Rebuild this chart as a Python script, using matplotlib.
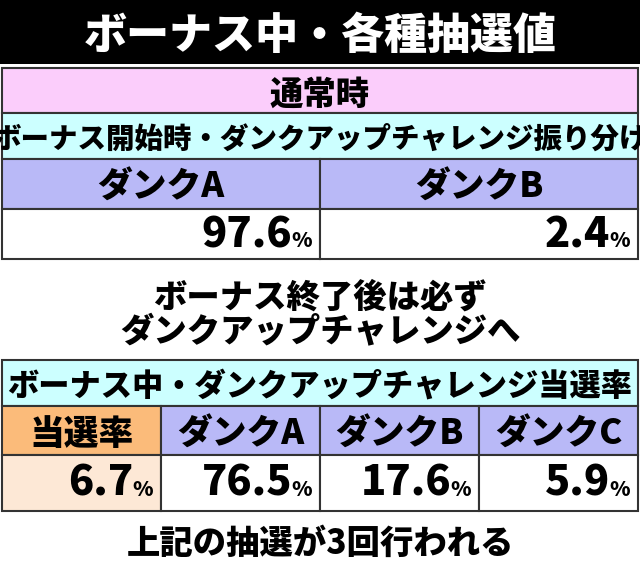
import matplotlib.pyplot as plt
from matplotlib.patches import Rectangle

plt.rcParams['font.family'] = ['Noto Sans CJK JP', 'DejaVu Sans']

TITLE = "ボーナス中・各種抽選値"
SECTION = "通常時"
TABLE1_TITLE = "ボーナス開始時・ダンクアップチャレンジ振り分け"
TABLE1_HEADERS = ["ダンクA", "ダンクB"]
TABLE1_VALUES = [97.6, 2.4]
NOTE_LINES = ["ボーナス終了後は必ず", "ダンクアップチャレンジへ"]
TABLE2_TITLE = "ボーナス中・ダンクアップチャレンジ当選率"
TABLE2_HEADERS = ["当選率", "ダンクA", "ダンクB", "ダンクC"]
TABLE2_VALUES = [6.7, 76.5, 17.6, 5.9]
FOOTER = "上記の抽選が3回行われる"

W, H = 640, 564
PINK = "#fbcdfb"
CYAN = "#ccffff"
LAVENDER = "#b9b9f7"
ORANGE = "#fbbb7a"
PEACH = "#fde8d6"
EDGE = "#333333"

fig = plt.figure(figsize=(6.4, 5.64), dpi=100)
ax = fig.add_axes([0, 0, 1, 1])
ax.set_xlim(0, W)
ax.set_ylim(H, 0)
ax.axis("off")


def cell(x0, y0, x1, y1, color, text=None, size=24, ha="center"):
    ax.add_patch(Rectangle((x0, y0), x1 - x0, y1 - y0, facecolor=color,
                           edgecolor=EDGE, linewidth=1.5))
    if text is not None:
        ax.text((x0 + x1) / 2, (y0 + y1) / 2, text, ha=ha, va="center_baseline",
                fontsize=size, fontweight="heavy")


def value_cell(x0, y0, x1, y1, color, value):
    cell(x0, y0, x1, y1, color)
    ym = (y0 + y1) / 2 + 13
    ax.text(x1 - 8, ym, "%", ha="right", va="baseline", fontsize=15,
            fontweight="heavy")
    ax.text(x1 - 28, ym, f"{value}", ha="right", va="baseline", fontsize=30,
            fontweight="heavy")


# title bar
ax.add_patch(Rectangle((0, 0), W, 64, facecolor="black", edgecolor="none"))
ax.text(W / 2, 32, TITLE, ha="center", va="center_baseline", color="white",
        fontsize=31, fontweight="heavy")

# table 1
cell(2, 68, 638, 113, PINK, SECTION, 24)
cell(2, 113, 638, 159, CYAN, TABLE1_TITLE, 20.5)
n = len(TABLE1_HEADERS)
cw = 636 / n
for i, (hd, v) in enumerate(zip(TABLE1_HEADERS, TABLE1_VALUES)):
    cell(2 + i * cw, 159, 2 + (i + 1) * cw, 209, LAVENDER, hd, 25)
    value_cell(2 + i * cw, 209, 2 + (i + 1) * cw, 259, "white", v)

for k, line in enumerate(NOTE_LINES):
    ax.text(W / 2, 294 + k * 34, line, ha="center", va="center_baseline",
            fontsize=24, fontweight="heavy")

# table 2
cell(2, 360, 638, 406, CYAN, TABLE2_TITLE, 22.5)
n = len(TABLE2_HEADERS)
cw = 636 / n
for i, (hd, v) in enumerate(zip(TABLE2_HEADERS, TABLE2_VALUES)):
    hc = ORANGE if i == 0 else LAVENDER
    vc = PEACH if i == 0 else "white"
    cell(2 + i * cw, 406, 2 + (i + 1) * cw, 455, hc, hd, 25)
    value_cell(2 + i * cw, 455, 2 + (i + 1) * cw, 511, vc, v)

ax.text(W / 2, 540, FOOTER, ha="center", va="center_baseline", fontsize=24,
        fontweight="heavy")

fig.savefig("out.png", dpi=100)
